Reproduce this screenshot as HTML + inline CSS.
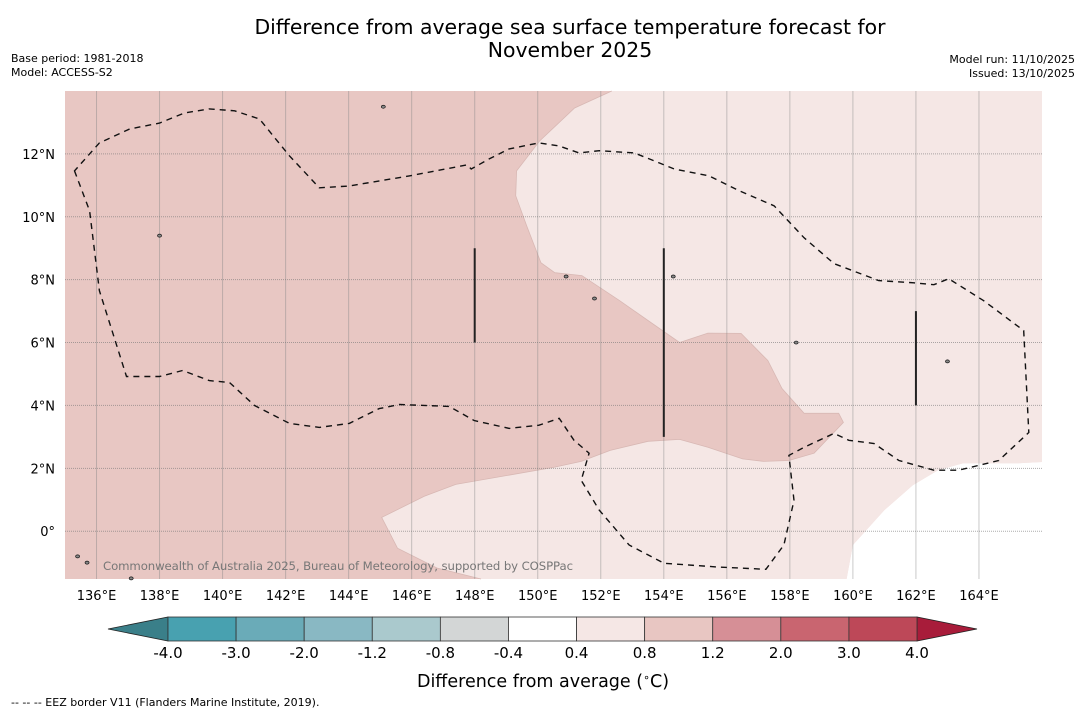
<!DOCTYPE html>
<html><head><meta charset="utf-8"><style>
body{margin:0;background:#fff;font-family:"Liberation Sans","DejaVu Sans",sans-serif}
svg text{font-family:"DejaVu Sans","Liberation Sans",sans-serif}
</style></head><body>
<svg id="c" width="1085" height="713" xmlns="http://www.w3.org/2000/svg">
<text x="570" y="34" font-size="20.4" text-anchor="middle">Difference from average sea surface temperature forecast for</text>
<text x="570" y="57" font-size="20.4" text-anchor="middle">November 2025</text>
<text x="11" y="62" font-size="11">Base period: 1981-2018</text>
<text x="11" y="76" font-size="11">Model: ACCESS-S2</text>
<text x="1075" y="63" font-size="11" text-anchor="end">Model run: 11/10/2025</text>
<text x="1075" y="77" font-size="11" text-anchor="end">Issued: 13/10/2025</text>
<g id="map"></g>
<g id="cbar"></g>
<text x="543" y="687" font-size="17.5" text-anchor="middle">Difference from average (<tspan font-size="11" dy="-6">∘</tspan><tspan dy="6">C)</tspan></text>
<text x="11" y="706" font-size="11">--  --  -- EEZ border V11 (Flanders Marine Institute, 2019).</text>
</svg>
<script>
const lonTicks=[136,138,140,142,144,146,148,150,152,154,156,158,160,162,164];
const latTicks=[12,10,8,6,4,2,0];
const warmRegion=[[152.35,14],[151.17,13.46],[150.06,12.41],[149.33,11.46],[149.3,10.67],[149.65,9.71],[150.1,8.54],[150.54,8.22],[151.4,8.13],[152.6,7.33],[153.5,6.7],[154.5,6.0],[155.4,6.3],[156.45,6.29],[157.3,5.43],[157.75,4.54],[158.45,3.75],[159.55,3.75],[159.7,3.46],[158.77,2.48],[157.97,2.25],[157.17,2.22],[156.5,2.3],[155.4,2.67],[154.5,2.92],[153.5,2.86],[152.3,2.57],[151.38,2.22],[150.5,2.03],[147.4,1.49],[146.4,1.11],[145.05,0.44],[145.55,-0.54],[146.8,-1.17],[148.2,-1.52],[159.8,-1.52],[160,-0.44],[161,0.67],[161.9,1.46],[162.7,1.94],[163.5,2.16],[165.25,2.16],[166,2.2],[166,14]];
const whiteRegion=[[159.8,-1.52],[160,-0.44],[161,0.67],[161.9,1.46],[162.7,1.94],[163.5,2.16],[165.25,2.16],[166,2.2],[166,-1.52]];
const eezContour=[[135.30,11.46],[135.78,10.19],[136.09,7.65],[136.95,4.92],[138.00,4.92],[138.73,5.11],[139.58,4.79],[140.22,4.73],[141.01,4.00],[142.12,3.43],[143.07,3.30],[144.02,3.43],[144.97,3.90],[145.61,4.03],[147.19,3.97],[147.98,3.52],[149.09,3.27],[150.04,3.37],[150.68,3.59],[151.15,2.89],[151.63,2.48],[151.38,1.62],[151.95,0.67],[152.90,-0.44],[154.01,-1.02],[155.75,-1.14],[157.24,-1.21],[157.81,-0.44],[158.13,0.98],[157.97,2.41],[158.45,2.67],[159.40,3.11],[159.87,2.89],[160.67,2.79],[161.46,2.25],[162.57,1.94],[163.36,1.94],[164.63,2.25],[165.58,3.14],[165.42,6.38],[164.15,7.33],[163.04,8.03],[162.57,7.84],[161.93,7.90],[160.82,7.97],[159.40,8.51],[158.45,9.33],[157.50,10.35],[156.39,10.83],[155.44,11.30],[154.33,11.52],[153.69,11.78],[153.06,12.03],[151.95,12.10],[151.31,12.03],[150.68,12.25],[150.04,12.35],[149.09,12.16],[148.46,11.84],[147.89,11.52],[147.76,11.65],[145.92,11.30],[144.02,10.98],[143.07,10.92],[142.12,11.94],[141.17,13.11],[140.38,13.37],[139.58,13.43],[138.79,13.30],[138.00,12.98],[137.05,12.79],[136.09,12.35]];
const borderLon=[148,154,162];
const borderLat1=[9,9,7];
const borderLat2=[6,3,4];
const islands=[[135.4,-0.8],[135.7,-1.0],[137.1,-1.5],[138.0,9.4],[145.1,13.5],[154.3,8.1],[158.2,6.0],[163.0,5.4],[151.8,7.4],[150.9,8.1]];
const cbLevels=["-4.0","-3.0","-2.0","-1.2","-0.8","-0.4","0.4","0.8","1.2","2.0","3.0","4.0"];
const cbColors=["#48a1b0","#6aabb8","#89b8c3","#aac9cd","#d3d6d6","#ffffff","#f5e7e5","#e8c6c2","#d68f96","#c96570","#bd4858"];
const cbUnder="#3a7f89",cbOver="#a81c3a";

const NS="http://www.w3.org/2000/svg";
const L=65,R=1042,T=91,B=579,lon0=135,lon1=166,lat0=-1.52,lat1=14;
const X=lon=>L+(lon-lon0)/(lon1-lon0)*(R-L);
const Y=lat=>B-(lat-lat0)/(lat1-lat0)*(B-T);
function mk(tag,at,par){const e=document.createElementNS(NS,tag);for(const k in at)e.setAttribute(k,at[k]);par.appendChild(e);return e;}
const map=document.getElementById('map');
const bg=mk('rect',{x:L,y:T,width:R-L,height:B-T,fill:'#e8c7c3'},map);


const pts=a=>a.map(p=>X(p[0]).toFixed(1)+','+Y(p[1]).toFixed(1)).join(' ');
const w=mk('polygon',{points:pts(warmRegion),fill:'#f5e7e5'},map);


const wo=mk('polyline',{points:pts(warmRegion.slice(0,35)),fill:'none',stroke:'#d8b8b4','stroke-width':0.8},map);


const wh=mk('polygon',{points:pts(whiteRegion),fill:'#ffffff'},map);


lonTicks.forEach(lo=>{
 const g=mk('line',{x1:X(lo),x2:X(lo),y1:T,y2:B,stroke:'#888','stroke-opacity':0.45,'stroke-width':1},map);
 
 
 const t=mk('text',{x:X(lo),y:600,'font-size':13,'text-anchor':'middle'},document.getElementById('c'));
 t.textContent=lo+'°E';
 
 
});
latTicks.forEach(la=>{
 const g=mk('line',{x1:L,x2:R,y1:Y(la),y2:Y(la),stroke:'#777','stroke-opacity':0.6,'stroke-width':1,'stroke-dasharray':'1,1'},map);
 
 
 const t=mk('text',{x:55,y:Y(la)+5,'font-size':13,'text-anchor':'end'},document.getElementById('c'));
 t.textContent=la===0?'0°':la+'°N';
 
 
});
const ez=mk('polygon',{points:pts(eezContour),fill:'none',stroke:'#111','stroke-width':1.4,'stroke-dasharray':'6,5'},map);


borderLon.forEach((lo,i)=>{
 const b=mk('line',{x1:X(lo),x2:X(lo),y1:Y(borderLat1[i]),y2:Y(borderLat2[i]),stroke:'#222','stroke-width':2},map);
 
 
});
islands.forEach(p=>{
 const s=mk('ellipse',{cx:X(p[0]),cy:Y(p[1]),rx:2,ry:1.5,fill:'#888',stroke:'#111','stroke-width':0.7},map);
 
 
});
const cr=mk('text',{x:103,y:570,'font-size':11.7,fill:'#777',textLength:470},map);
cr.textContent='Commonwealth of Australia 2025, Bureau of Meteorology, supported by COSPPac';


const cb=document.getElementById('cbar');
const cL=168,cR=917,cT=617,cB=641,n=cbColors.length,bw=(cR-cL)/n;
const lt=mk('polygon',{points:`${cL},${cT} ${cL},${cB} 108,629`,fill:cbUnder,stroke:'#222','stroke-width':0.8},cb);


const rt=mk('polygon',{points:`${cR},${cT} ${cR},${cB} 977,629`,fill:cbOver,stroke:'#222','stroke-width':0.8},cb);


cbColors.forEach((c,i)=>{
 const r=mk('rect',{x:cL+i*bw,y:cT,width:bw,height:cB-cT,fill:c,stroke:'#333','stroke-width':0.8},cb);
 
 
});
cbLevels.forEach((v,i)=>{
 const t=mk('text',{x:cL+i*bw,y:658,'font-size':15,'text-anchor':'middle'},cb);
 t.textContent=v;
 
 
});
</script>
</body></html>
